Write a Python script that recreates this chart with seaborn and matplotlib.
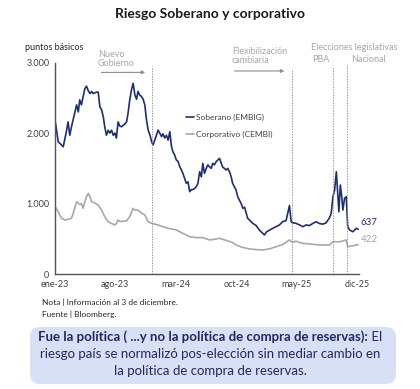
import numpy as np
import pandas as pd
import seaborn as sns
import matplotlib.pyplot as plt
from matplotlib.patches import FancyBboxPatch
from matplotlib.ticker import FuncFormatter

# Soberano (EMBIG), puntos basicos
sob_dates = ["2023-01-02", "2023-01-08", "2023-01-12", "2023-01-24", "2023-01-30", "2023-02-11",
             "2023-02-16", "2023-02-22", "2023-02-28", "2023-03-12", "2023-03-18", "2023-03-24",
             "2023-03-29", "2023-04-04", "2023-04-10", "2023-04-16", "2023-04-22", "2023-04-28",
             "2023-05-04", "2023-05-10", "2023-05-15", "2023-05-27", "2023-06-02", "2023-06-08",
             "2023-06-14", "2023-06-20", "2023-06-25", "2023-07-01", "2023-07-07", "2023-07-13",
             "2023-07-19", "2023-07-25", "2023-07-31", "2023-08-05", "2023-08-11", "2023-08-17",
             "2023-08-23", "2023-08-29", "2023-09-04", "2023-09-10", "2023-09-15", "2023-09-21",
             "2023-09-27", "2023-10-03", "2023-10-09", "2023-10-15", "2023-10-20", "2023-10-26",
             "2023-11-01", "2023-11-07", "2023-11-13", "2023-11-19", "2023-11-25", "2023-12-01",
             "2023-12-07", "2023-12-12", "2023-12-24", "2023-12-30", "2024-01-11", "2024-01-16",
             "2024-01-22", "2024-01-28", "2024-02-03", "2024-02-09", "2024-02-15", "2024-02-20",
             "2024-02-26", "2024-03-03", "2024-03-09", "2024-03-15", "2024-03-21", "2024-03-26",
             "2024-04-01", "2024-04-07", "2024-04-13", "2024-04-19", "2024-04-25", "2024-04-30",
             "2024-05-06", "2024-05-12", "2024-05-18", "2024-05-24", "2024-05-30", "2024-06-04",
             "2024-06-10", "2024-06-16", "2024-06-22", "2024-06-28", "2024-07-04", "2024-07-09",
             "2024-07-15", "2024-07-21", "2024-07-27", "2024-08-02", "2024-08-08", "2024-08-13",
             "2024-08-19", "2024-08-25", "2024-08-31", "2024-09-06", "2024-09-12", "2024-09-17",
             "2024-09-23", "2024-09-29", "2024-10-05", "2024-10-11", "2024-10-17", "2024-10-23",
             "2024-10-29", "2024-11-04", "2024-11-09", "2024-11-15", "2024-11-21", "2024-11-27",
             "2024-12-09", "2024-12-20", "2025-01-01", "2025-01-07", "2025-01-14", "2025-01-25",
             "2025-02-05", "2025-02-17", "2025-03-01", "2025-03-12", "2025-03-24", "2025-03-30",
             "2025-04-05", "2025-04-11", "2025-04-16", "2025-04-28", "2025-05-10", "2025-05-22",
             "2025-06-03", "2025-06-14", "2025-06-26", "2025-07-08", "2025-07-19", "2025-07-31",
             "2025-08-12", "2025-08-24", "2025-08-30", "2025-09-05", "2025-09-11", "2025-09-17",
             "2025-09-22", "2025-09-26", "2025-10-01", "2025-10-06", "2025-10-10", "2025-10-16",
             "2025-10-22", "2025-10-27", "2025-11-03", "2025-11-14", "2025-11-26", "2025-12-03"]
sob_values = [2160, 2000, 1880, 1830, 1807, 2040,
              2160, 1970, 2090, 2300, 2400, 2300,
              2470, 2400, 2515, 2630, 2665, 2600,
              2560, 2590, 2560, 2580, 2580, 2370,
              2330, 2230, 2090, 1970, 2040, 2000,
              2040, 1970, 2000, 1930, 2160, 2100,
              2090, 2110, 2130, 2160, 2280, 2470,
              2610, 2705, 2540, 2480, 2590, 2540,
              2520, 2480, 2400, 2185, 2040, 1972,
              1880, 1830, 1972, 2043, 1950, 1990,
              1930, 1970, 1900, 2020, 1807, 1736,
              1690, 1618, 1600, 1524, 1477, 1430,
              1360, 1289, 1310, 1170, 1200, 1200,
              1215, 1240, 1289, 1453, 1380, 1572,
              1430, 1500, 1550, 1520, 1500, 1572,
              1550, 1595, 1618, 1642, 1572, 1520,
              1500, 1477, 1500, 1453, 1380, 1289,
              1240, 1194, 1099, 1050, 1005, 935,
              950, 864, 793, 769, 745, 722,
              690, 627, 580, 557, 600, 627,
              650, 674, 700, 745, 760, 864,
              975, 745, 730, 722, 700, 674,
              700, 690, 720, 745, 720, 710,
              730, 800, 864, 1099, 1194, 1453,
              1147, 886, 1265, 1100, 910, 1076,
              1099, 674, 627, 603, 651, 637]

# Corporativo (CEMBI)
corp_dates = ["2023-01-02", "2023-01-12", "2023-01-24", "2023-02-05", "2023-02-16", "2023-02-28",
              "2023-03-06", "2023-03-18", "2023-03-24", "2023-03-29", "2023-04-04", "2023-04-10",
              "2023-04-16", "2023-04-22", "2023-04-28", "2023-05-04", "2023-05-10", "2023-05-21",
              "2023-06-02", "2023-06-14", "2023-06-25", "2023-07-07", "2023-07-19", "2023-07-31",
              "2023-08-05", "2023-08-11", "2023-08-17", "2023-08-29", "2023-09-10", "2023-09-21",
              "2023-10-03", "2023-10-09", "2023-10-20", "2023-11-01", "2023-11-13", "2023-11-25",
              "2023-12-07", "2023-12-18", "2023-12-30", "2024-01-16", "2024-02-03", "2024-02-19",
              "2024-03-03", "2024-03-26", "2024-04-19", "2024-05-12", "2024-06-04", "2024-06-28",
              "2024-07-21", "2024-08-02", "2024-08-25", "2024-09-17", "2024-09-29", "2024-10-23",
              "2024-11-15", "2024-12-09", "2025-01-01", "2025-01-25", "2025-02-17", "2025-03-12",
              "2025-04-05", "2025-04-16", "2025-04-28", "2025-05-10", "2025-05-22", "2025-06-14",
              "2025-07-08", "2025-07-31", "2025-08-24", "2025-09-05", "2025-09-28", "2025-10-22",
              "2025-10-27", "2025-11-09", "2025-11-26", "2025-12-03"]
corp_values = [957, 886, 793, 769, 780, 793,
               864, 1028, 1010, 990, 1000, 935,
               1028, 1099, 1147, 1100, 1028, 1010,
               980, 910, 816, 745, 720, 698,
               720, 769, 750, 750, 760, 816,
               935, 910, 910, 870, 840, 745,
               722, 710, 698, 674, 651, 640,
               627, 580, 533, 520, 520, 486,
               500, 510, 480, 450, 415, 380,
               360, 350, 345, 360, 391, 420,
               486, 450, 470, 450, 439, 430,
               420, 415, 415, 462, 460, 486,
               391, 400, 415, 422]

event_dates = ["2023-12-10", "2025-04-14", "2025-09-07", "2025-10-26"]
tick_dates = ["2023-01-01", "2023-08-01", "2024-03-01", "2024-10-01", "2025-05-01", "2025-12-01"]
tick_labels = ["ene-23", "ago-23", "mar-24", "oct-24", "may-25", "dic-25"]
y_ticks = [0, 1000, 2000, 3000]

navy = "#1f2f6e"
grey = "#a8a8a8"
txt_grey = "#a6a6a6"
box_txt = "#1f2b5e"

sns.set_style("white")
plt.rcParams["font.family"] = ["Lato", "DejaVu Sans"]

sob = pd.DataFrame({"fecha": pd.to_datetime(sob_dates), "pb": sob_values})
corp = pd.DataFrame({"fecha": pd.to_datetime(corp_dates), "pb": corp_values})

fig = plt.figure(figsize=(4.2, 3.89), dpi=100)
W, H = 420, 389
ax = fig.add_axes([55 / W, 1 - 274.3 / H, (358.5 - 55) / W, (274.3 - 62.5) / H])

sns.lineplot(data=corp, x="fecha", y="pb", ax=ax, color=grey, lw=1.2, label="Corporativo (CEMBI)")
sns.lineplot(data=sob, x="fecha", y="pb", ax=ax, color=navy, lw=1.2, label="Soberano (EMBIG)")

ax.set_xlim(pd.Timestamp("2023-01-01"), pd.Timestamp("2025-12-04"))
ax.set_ylim(0, 3000)
ax.set_xticks(pd.to_datetime(tick_dates))
ax.set_xticklabels(tick_labels)
ax.set_yticks(y_ticks)
ax.yaxis.set_major_formatter(FuncFormatter(lambda v, p: f"{int(v):,}".replace(",", ".")))
ax.set_xlabel("")
ax.set_ylabel("")
ax.tick_params(direction="in", length=3, width=0.8, color="#555555",
               labelsize=6.5, labelcolor="#404040", pad=4)
for s in ["top", "right"]:
    ax.spines[s].set_visible(False)
for s in ["left", "bottom"]:
    ax.spines[s].set_color("#555555")
    ax.spines[s].set_linewidth(1.0)

# lineas de eventos
tops = [2950, 2900, 2940, 2960]
for d, t in zip(event_dates, tops):
    ax.plot([pd.Timestamp(d)] * 2, [0, t], color="#9a9a9a", lw=0.7,
            ls=(0, (1.5, 1.2)), clip_on=False)

# anotaciones
ax.text(pd.Timestamp("2023-06-01"), 3050, "Nuevo\nGobierno", fontsize=6.5, color=txt_grey,
        va="center", ha="left", linespacing=1.1, clip_on=False)
ax.annotate("", xy=(pd.Timestamp("2023-11-24"), 2860), xytext=(pd.Timestamp("2023-06-03"), 2860),
            arrowprops=dict(arrowstyle="-|>", color="#8c8c8c", lw=0.8, mutation_scale=5),
            annotation_clip=False)
ax.text(pd.Timestamp("2024-09-14"), 3090, "Flexibilización\ncambiaria", fontsize=6.5, color=txt_grey,
        va="center", ha="left", linespacing=1.1, clip_on=False)
ax.annotate("", xy=(pd.Timestamp("2025-03-28"), 2880), xytext=(pd.Timestamp("2024-09-14"), 2880),
            arrowprops=dict(arrowstyle="-|>", color="#8c8c8c", lw=0.8, mutation_scale=5),
            annotation_clip=False)
ax.text(pd.Timestamp("2025-06-19"), 3210, "Elecciones legislativas", fontsize=6.5, color=txt_grey,
        va="center", ha="left", clip_on=False)
ax.text(pd.Timestamp("2025-06-24"), 3040, "PBA", fontsize=6.5, color=txt_grey,
        va="center", ha="left", clip_on=False)
ax.text(pd.Timestamp("2025-11-08"), 3040, "Nacional", fontsize=6.5, color=txt_grey,
        va="center", ha="left", clip_on=False)

# valores finales
ax.text(pd.Timestamp("2025-12-12"), sob_values[-1] + 103, f"{sob_values[-1]}", color=navy,
        fontsize=7, va="center", ha="left", clip_on=False)
ax.text(pd.Timestamp("2025-12-12"), corp_values[-1] + 78, f"{corp_values[-1]}", color=txt_grey,
        fontsize=7, va="center", ha="left", clip_on=False)

h, l = ax.get_legend_handles_labels()
ax.legend(h[::-1], l[::-1], loc="upper left", bbox_to_anchor=(186 / W, 1 - 113.5 / H),
          bbox_transform=fig.transFigure, frameon=False, fontsize=6, handlelength=1.0,
          handletextpad=0.2, labelspacing=1.2, borderpad=0, borderaxespad=0,
          labelcolor="#404040")

fig.text(210 / W, 1 - 14 / H, "Riesgo Soberano y corporativo", ha="center", va="center",
         fontsize=10, fontweight="bold", color="#1a1a1a")
fig.text(25 / W, 1 - 48 / H, "puntos básicos", ha="left", va="center", fontsize=6.5, color="#262626")
fig.text(42 / W, 1 - 302 / H, "Nota | Información al 3 de diciembre.", ha="left", va="center",
         fontsize=6, color="#262626")
fig.text(42 / W, 1 - 314 / H, "Fuente | Bloomberg.", ha="left", va="center",
         fontsize=6, color="#262626")

box = FancyBboxPatch((30 / W, 1 - 384 / H), 366 / W, 57 / H, transform=fig.transFigure,
                     boxstyle="round,pad=0,rounding_size=0.025", facecolor="#d8e0f6",
                     edgecolor="none")
fig.patches.append(box)

line1_bold = "Fue la política ( ...y no la política de compra de reservas):"
line1_rest = " El"
line2 = "riesgo país se normalizó pos-elección sin mediar cambio en"
line3 = "la política de compra de reservas."
fs = 9.5
r = fig.canvas.get_renderer()
tb = fig.text(0, 1 - 337 / H, line1_bold, fontsize=fs, fontweight="bold", color=box_txt,
              ha="left", va="center")
tr = fig.text(0, 1 - 337 / H, line1_rest, fontsize=fs, color=box_txt, ha="left", va="center")
wb = tb.get_window_extent(r).width / fig.bbox.width
wr = tr.get_window_extent(r).width / fig.bbox.width
x0 = 0.5 - (wb + wr) / 2
tb.set_x(x0)
tr.set_x(x0 + wb)
fig.text(0.5, 1 - 354 / H, line2, fontsize=fs, color=box_txt, ha="center", va="center")
fig.text(0.5, 1 - 371 / H, line3, fontsize=fs, color=box_txt, ha="center", va="center")

fig.savefig("out.png", dpi=100)
